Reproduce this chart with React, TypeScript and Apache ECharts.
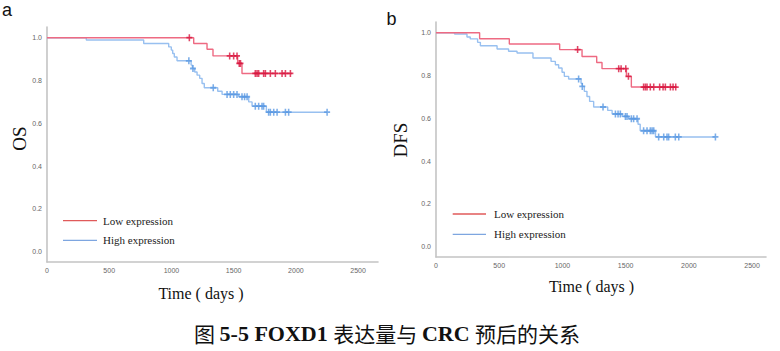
import React, { useEffect, useRef } from 'react';
import * as echarts from 'echarts';

// ---- Data ----
const xTickValues = [0, 500, 1000, 1500, 2000, 2500];
const yTickValues = [0, 0.2, 0.4, 0.6, 0.8, 1.0];

// Panel a: OS
const osLowTimes = [0, 1179, 1286, 1334, 1532, 1567, 1969];
const osLowValues = [1, 0.973, 0.946, 0.915, 0.88, 0.833, 0.833];
const osLowCensor = [1144, 1468, 1500, 1527, 1545, 1555, 1674, 1688, 1701, 1741, 1755, 1795, 1835, 1889, 1916, 1956];

const osHighTimes = [0, 316, 777, 978, 999, 1010, 1023, 1045, 1158, 1168, 1187, 1206, 1227, 1246, 1264, 1372, 1407, 1540, 1621, 1648, 1763, 2251];
const osHighValues = [1, 0.989, 0.973, 0.957, 0.942, 0.926, 0.91, 0.892, 0.872, 0.856, 0.84, 0.825, 0.81, 0.786, 0.766, 0.75, 0.735, 0.724, 0.7, 0.68, 0.652, 0.652];
const osHighCensor = [1140, 1173, 1336, 1447, 1473, 1500, 1527, 1567, 1588, 1608, 1674, 1701, 1728, 1741, 1781, 1795, 1822, 1849, 1916, 1942, 2251];

// Panel b: DFS
const dfsLowTimes = [0, 345, 580, 978, 1155, 1271, 1313, 1506, 1545, 1907];
const dfsLowValues = [1, 0.972, 0.947, 0.921, 0.889, 0.861, 0.832, 0.796, 0.746, 0.746];
const dfsLowCensor = [1120, 1445, 1464, 1501, 1522, 1642, 1656, 1669, 1695, 1722, 1769, 1796, 1814, 1854, 1875, 1896];

const dfsHighTimes = [0, 147, 245, 271, 329, 351, 483, 574, 641, 767, 910, 944, 970, 997, 1015, 1049, 1147, 1157, 1173, 1194, 1215, 1247, 1358, 1393, 1472, 1524, 1598, 1615, 1736, 2210];
const dfsHighValues = [1, 0.994, 0.98, 0.971, 0.955, 0.939, 0.924, 0.913, 0.905, 0.882, 0.866, 0.85, 0.835, 0.815, 0.796, 0.784, 0.764, 0.749, 0.726, 0.702, 0.679, 0.653, 0.637, 0.62, 0.609, 0.598, 0.572, 0.542, 0.513, 0.513];
const dfsHighCensor = [1128, 1157, 1321, 1419, 1440, 1458, 1498, 1511, 1545, 1563, 1590, 1642, 1669, 1695, 1709, 1722, 1761, 1801, 1827, 1840, 1893, 1920, 2210];

const legendLabels = ['Low expression', 'High expression'];

// ---- Styles ----
const RED_LINE = '#ee6a82';
const RED_MARK = '#d8163f';
const BLUE_LINE = '#98c0f0';
const BLUE_MARK = '#5a98e2';
const RED_LEG = '#e05a5a';
const BLUE_LEG = '#7ea6e0';
const PLUS = 'path://M0.37,0 H0.63 V0.37 H1 V0.63 H0.63 V1 H0.37 V0.63 H0 V0.37 H0.37 Z';

function stepAt(times: number[], values: number[], t: number) {
  let v = values[0];
  for (let i = 0; i < times.length; i++) if (times[i] <= t) v = values[i];
  return v;
}

function curve(name: string, times: number[], values: number[], idx: number, color: string) {
  return {
    type: 'line',
    name,
    step: 'end',
    xAxisIndex: idx,
    yAxisIndex: idx,
    showSymbol: false,
    symbol: 'none',
    lineStyle: { color, width: 1.4 },
    data: times.map((t, i) => [t, values[i]]),
    z: 2,
  };
}

function censor(times: number[], values: number[], cens: number[], idx: number, color: string) {
  return {
    type: 'scatter',
    xAxisIndex: idx,
    yAxisIndex: idx,
    symbol: PLUS,
    symbolSize: [6, 7],
    itemStyle: { color },
    data: cens.map((t) => [t, stepAt(times, values, t)]),
    z: 3,
  };
}

function xAxisCfg(idx: number, max: number) {
  return {
    type: 'value',
    gridIndex: idx,
    min: 0,
    max,
    axisLine: { show: true, onZero: false, lineStyle: { color: '#c4c4c4', width: 1.6 } },
    axisTick: { show: false },
    splitLine: { show: false },
    axisLabel: {
      customValues: xTickValues,
      fontSize: 7,
      color: '#666',
      margin: 5,
      fontFamily: 'Liberation Sans',
      formatter: (v: number) => String(v),
    },
  };
}

function yAxisCfg(idx: number) {
  return {
    type: 'value',
    gridIndex: idx,
    min: -0.048,
    max: 1.05,
    axisLine: { show: true, onZero: false, lineStyle: { color: '#c4c4c4', width: 1.6 } },
    axisTick: { show: false },
    splitLine: { show: false },
    axisLabel: {
      customValues: yTickValues,
      fontSize: 7,
      color: '#666',
      margin: 5,
      fontFamily: 'Liberation Sans',
      formatter: (v: number) => v.toFixed(1),
    },
  };
}

function legendGraphics(x0: number, x1: number, xt: number, y1: number, y2: number) {
  return [
    { type: 'line', shape: { x1: x0, y1: y1, x2: x1, y2: y1 }, style: { stroke: RED_LEG, lineWidth: 1.3 } },
    { type: 'line', shape: { x1: x0, y1: y2, x2: x1, y2: y2 }, style: { stroke: BLUE_LEG, lineWidth: 1.3 } },
    { type: 'text', x: xt, y: y1, style: { text: legendLabels[0], fontSize: 11, fontFamily: 'Liberation Serif', fill: '#222', align: 'left', verticalAlign: 'middle' } },
    { type: 'text', x: xt, y: y2, style: { text: legendLabels[1], fontSize: 11, fontFamily: 'Liberation Serif', fill: '#222', align: 'left', verticalAlign: 'middle' } },
  ];
}

export default function App() {
  const ref = useRef<HTMLDivElement>(null);
  useEffect(() => {
    document.body.style.margin = '0';
    const chart = echarts.init(ref.current as HTMLDivElement, null, { renderer: 'svg' });
    const option: any = {
      animation: false,
      backgroundColor: '#fff',
      grid: [
        { left: 47, top: 27, width: 331, height: 235, outerBoundsMode: 'none' },
        { left: 436, top: 22, width: 330, height: 235, outerBoundsMode: 'none' },
      ],
      xAxis: [xAxisCfg(0, 2660), xAxisCfg(1, 2610)],
      yAxis: [yAxisCfg(0), yAxisCfg(1)],
      series: [
        curve('High expression', osHighTimes, osHighValues, 0, BLUE_LINE),
        curve('Low expression', osLowTimes, osLowValues, 0, RED_LINE),
        censor(osHighTimes, osHighValues, osHighCensor, 0, BLUE_MARK),
        censor(osLowTimes, osLowValues, osLowCensor, 0, RED_MARK),
        curve('High expression', dfsHighTimes, dfsHighValues, 1, BLUE_LINE),
        curve('Low expression', dfsLowTimes, dfsLowValues, 1, RED_LINE),
        censor(dfsHighTimes, dfsHighValues, dfsHighCensor, 1, BLUE_MARK),
        censor(dfsLowTimes, dfsLowValues, dfsLowCensor, 1, RED_MARK),
      ],
      graphic: [
        { type: 'text', x: 2, y: 10, style: { text: 'a', fontSize: 18, fontFamily: 'Liberation Sans', fill: '#111', align: 'left', verticalAlign: 'middle' } },
        { type: 'text', x: 386.5, y: 18.5, style: { text: 'b', fontSize: 18, fontFamily: 'Liberation Sans', fill: '#111', align: 'left', verticalAlign: 'middle' } },
        { type: 'text', x: 19.5, y: 138.5, rotation: Math.PI / 2, style: { text: 'OS', fontSize: 19, fontFamily: 'Liberation Serif', fill: '#111', align: 'center', verticalAlign: 'middle' } },
        { type: 'text', x: 400.5, y: 140, rotation: Math.PI / 2, style: { text: 'DFS', fontSize: 19, fontFamily: 'Liberation Serif', fill: '#111', align: 'center', verticalAlign: 'middle' } },
        { type: 'text', x: 201, y: 293.5, style: { text: 'Time ( days )', fontSize: 16, fontFamily: 'Liberation Serif', fill: '#111', align: 'center', verticalAlign: 'middle' } },
        { type: 'text', x: 591.5, y: 286.5, style: { text: 'Time ( days )', fontSize: 16, fontFamily: 'Liberation Serif', fill: '#111', align: 'center', verticalAlign: 'middle' } },
        ...legendGraphics(63, 97, 103, 220.7, 240.3),
        ...legendGraphics(452.7, 486, 494, 214, 234.3),
        {
          type: 'text',
          x: 387,
          y: 333,
          style: {
            text: '{n|图 }{b|5-5 FOXD1 }{n|表达量与 }{b|CRC }{n|预后的关系}',
            align: 'center',
            verticalAlign: 'middle',
            fill: '#111',
            rich: {
              n: { fontSize: 21, fontFamily: 'Noto Sans CJK SC', fill: '#111' },
              b: { fontSize: 22, fontFamily: 'Liberation Serif', fontWeight: 'bold', fill: '#111' },
            },
          },
        },
      ],
    };
    chart.setOption(option);
    return () => chart.dispose();
  }, []);
  return <div ref={ref} style={{ width: 780, height: 351 }} />;
}
